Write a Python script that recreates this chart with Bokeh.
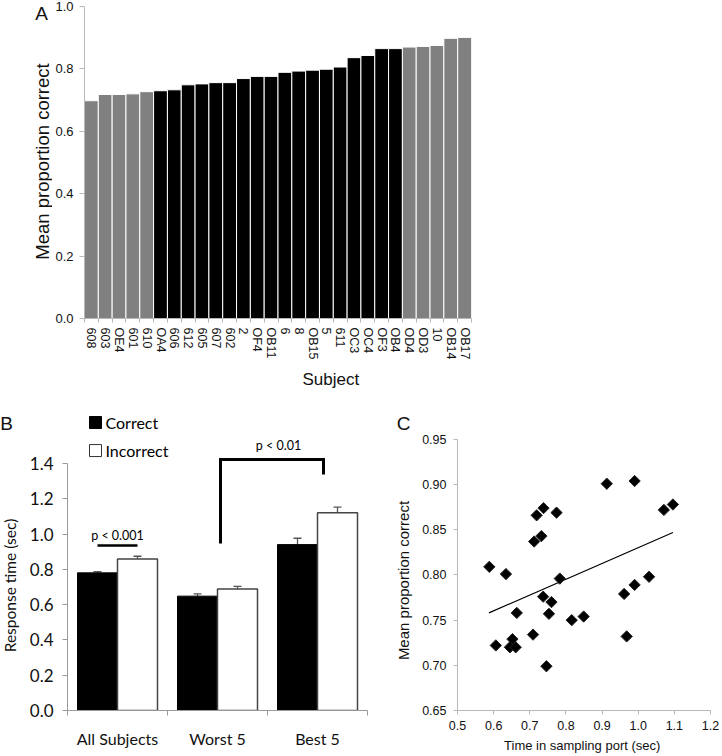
import numpy as np
from bokeh.plotting import figure
from bokeh.models import (Range1d, FixedTicker, ColumnDataSource, Whisker,
                          TeeHead, NumeralTickFormatter, Title)
from bokeh.layouts import column, row
from bokeh.embed import file_html
from bokeh.resources import INLINE
from bokeh.core.properties import value

# ---------------- Panel A data ----------------
subjects = ["608", "603", "OE4", "601", "610", "OA4", "606", "612", "605", "607",
            "602", "2", "OF4", "OB11", "6", "8", "OB15", "5", "611", "OC3",
            "OC4", "OF3", "OB4", "OD4", "OD3", "10", "OB14", "OB17"]
prop_correct = [0.698, 0.718, 0.718, 0.720, 0.727, 0.730, 0.733, 0.749, 0.752, 0.756,
                0.756, 0.769, 0.776, 0.776, 0.789, 0.793, 0.796, 0.799, 0.806, 0.836,
                0.843, 0.865, 0.865, 0.870, 0.872, 0.875, 0.898, 0.901]
bar_group = ["extreme"] * 5 + ["middle"] * 18 + ["extreme"] * 5
a_yticks = [0.0, 0.2, 0.4, 0.6, 0.8, 1.0]

# ---------------- Panel B data ----------------
groups = ["All Subjects", "Worst 5", "Best 5"]
rt_correct = [0.780, 0.648, 0.940]
rt_correct_err = [0.007, 0.013, 0.036]
rt_incorrect = [0.859, 0.689, 1.120]
rt_incorrect_err = [0.015, 0.014, 0.032]
b_yticks = [0.0, 0.2, 0.4, 0.6, 0.8, 1.0, 1.2, 1.4]
sig_labels = ["p < 0.001", "p < 0.01"]
legend_labels = ["Correct", "Incorrect"]

# ---------------- Panel C data ----------------
c_time = [0.913, 0.990, 0.738, 0.719, 0.774, 0.712, 0.732, 1.071, 1.096, 0.588,
          0.634, 0.783, 1.030, 0.990, 0.961, 0.737, 0.760, 0.664, 0.753, 0.816,
          0.849, 0.709, 0.968, 0.652, 0.606, 0.645, 0.661, 0.746]
c_prop = [0.901, 0.904, 0.874, 0.866, 0.869, 0.837, 0.843, 0.872, 0.878, 0.809,
          0.801, 0.796, 0.798, 0.789, 0.779, 0.776, 0.770, 0.758, 0.757, 0.750,
          0.754, 0.734, 0.732, 0.729, 0.722, 0.720, 0.720, 0.699]
fit_x = [0.587, 1.096]
fit_y = [0.758, 0.847]
c_xticks = [0.5, 0.6, 0.7, 0.8, 0.9, 1.0, 1.1, 1.2]
c_yticks = [0.65, 0.70, 0.75, 0.80, 0.85, 0.90, 0.95]

GROUP_COLORS = {"extreme": "#808080", "middle": "#000000"}
TXT = "#111111"


def strip(width, height, bt, bb):
    """A bare figure whose data coordinates equal its canvas pixels (y downward);
    it only carries side texts. Borders match its row partner so frames line up."""
    s = figure(width=width, height=height, x_range=Range1d(0, width),
               y_range=Range1d(height - bb, bt),
               output_backend="svg", toolbar_location=None,
               x_axis_location=None, y_axis_location=None,
               min_border_left=0, min_border_right=0, min_border_top=bt, min_border_bottom=bb)
    s.grid.visible = False
    s.outline_line_color = None
    return s


# =============== Panel A ===============
A_H, A_BT, A_BB = 398, 6, 80
n = len(subjects)
centers = np.arange(n) + 0.5
edges = list(np.arange(n + 1).astype(float))
srcA = ColumnDataSource(dict(x=centers, top=prop_correct,
                             color=[GROUP_COLORS[g] for g in bar_group]))
pA = figure(width=670, height=A_H, x_range=Range1d(0, n), y_range=Range1d(0, 1.0),
            output_backend="svg", toolbar_location=None,
            min_border_left=32, min_border_right=251, min_border_top=A_BT, min_border_bottom=A_BB)
pA.vbar(x="x", top="top", bottom=0, width=1.0, fill_color="color",
        line_color="white", line_width=1, source=srcA)
pA.grid.visible = False
pA.outline_line_color = None

ya = pA.yaxis[0]
ya.ticker = FixedTicker(ticks=a_yticks)
ya.formatter = NumeralTickFormatter(format="0.0")
ya.axis_line_color = "#b8b8b8"
ya.major_tick_line_color = "#b8b8b8"
ya.major_tick_out = 5
ya.major_tick_in = 0
ya.minor_tick_line_color = None
ya.major_label_text_font = "Liberation Sans"
ya.major_label_text_font_size = "13px"
ya.major_label_text_color = TXT
ya.major_label_standoff = 6

xa = pA.xaxis[0]
xa.ticker = FixedTicker(ticks=list(centers), minor_ticks=edges)
xa.major_label_overrides = {float(c): s for c, s in zip(centers, subjects)}
xa.major_label_orientation = "vertical"
xa.major_tick_line_color = None
xa.major_tick_out = 0
xa.major_tick_in = 0
xa.minor_tick_line_color = "#b8b8b8"
xa.minor_tick_out = 4
xa.minor_tick_in = 0
xa.axis_line_color = "#b8b8b8"
xa.major_label_text_font = "Liberation Sans"
xa.major_label_text_font_size = "12.5px"
xa.major_label_text_color = TXT
xa.major_label_standoff = 5

pA.add_layout(Title(text="Subject", align="left", offset=218, standoff=10,
                    text_font="Liberation Sans", text_font_size="17px",
                    text_font_style="normal", text_color=TXT), "below")

sA = strip(52, A_H, A_BT, A_BB)
sA.text(x=[41], y=[13], text=["A"], text_align="center", text_baseline="middle",
        text_font=value("Liberation Sans"), text_font_size="19px", text_color=TXT)
sA.text(x=[42], y=[161], text=["Mean proportion correct"], angle=np.pi / 2,
        text_align="center", text_baseline="middle",
        text_font=value("Liberation Sans"), text_font_size="18.5px", text_color=TXT)

# =============== Row B / C shared frame borders ===============
R_H, R_BT, R_BB = 358, 3, 46

# =============== Panel B ===============
gi = np.arange(len(groups))
srcBc = ColumnDataSource(dict(x=gi + 0.3, top=rt_correct,
                              upper=np.array(rt_correct) + np.array(rt_correct_err)))
srcBi = ColumnDataSource(dict(x=gi + 0.7, top=rt_incorrect,
                              upper=np.array(rt_incorrect) + np.array(rt_incorrect_err)))

pB = figure(width=346, height=R_H, x_range=Range1d(0, len(groups)), y_range=Range1d(0, 1.751),
            output_backend="svg", toolbar_location=None,
            min_border_left=43, min_border_right=3, min_border_top=R_BT, min_border_bottom=R_BB)
pB.grid.visible = False
pB.outline_line_color = None

pB.vbar(x="x", top="top", bottom=0, width=0.4, fill_color="black", line_color="black",
        line_width=1, source=srcBc)
pB.vbar(x="x", top="top", bottom=0, width=0.4, fill_color="white", line_color="#444444",
        line_width=1.5, source=srcBi)
for src in (srcBc, srcBi):
    pB.add_layout(Whisker(source=src, base="x", upper="upper", lower="top",
                          line_color="#555555", line_width=1.3,
                          upper_head=TeeHead(size=8, line_color="#555555", line_width=1.3),
                          lower_head=None))

# significance marks
pB.line(x=[0.3, 0.7], y=[0.935, 0.935], line_color="black", line_width=2.5)
pB.line(x=[1.53, 1.53, 2.56, 2.56], y=[0.946, 1.422, 1.422, 1.337], line_color="black",
        line_width=3, line_join="miter")
pB.text(x=[0.5, 2.11], y=[0.99, 1.50], text=sig_labels, text_align="center",
        text_baseline="middle", text_font=value("Lato"), text_font_size="12.5px",
        text_color="black")

# legend (drawn manually)
pB.scatter(x=[0.28], y=[1.632], marker="square", size=12, fill_color="black", line_color="black")
pB.scatter(x=[0.28], y=[1.473], marker="square", size=12, fill_color="white", line_color="#333333",
           line_width=1)
pB.text(x=[0.38, 0.38], y=[1.632, 1.473], text=legend_labels, text_align="left",
        text_baseline="middle", text_font=value("Lato"), text_font_size="16px", text_color="black")

yb = pB.yaxis[0]
yb.ticker = FixedTicker(ticks=b_yticks)
yb.formatter = NumeralTickFormatter(format="0.0")
yb.bounds = (0, 1.4)
yb.axis_line_color = "#9a9a9a"
yb.major_tick_line_color = "#9a9a9a"
yb.major_tick_out = 5
yb.major_tick_in = 0
yb.minor_tick_line_color = None
yb.major_label_text_font = "Lato"
yb.major_label_text_font_size = "17px"
yb.major_label_text_color = TXT
yb.major_label_standoff = 9

xb = pB.xaxis[0]
xb.ticker = FixedTicker(ticks=list(gi + 0.5), minor_ticks=list(np.arange(len(groups) + 1).astype(float)))
xb.major_label_overrides = {float(c): g for c, g in zip(gi + 0.5, groups)}
xb.major_tick_line_color = None
xb.major_tick_out = 0
xb.major_tick_in = 0
xb.minor_tick_line_color = "#9a9a9a"
xb.minor_tick_out = 5
xb.minor_tick_in = 0
xb.axis_line_color = "#9a9a9a"
xb.major_label_text_font = "Lato"
xb.major_label_text_font_size = "16px"
xb.major_label_text_color = TXT
xb.major_label_standoff = 13

sB = strip(24, R_H, R_BT, R_BB)
sB.text(x=[6], y=[25], text=["B"], text_align="center", text_baseline="middle",
        text_font=value("Liberation Sans"), text_font_size="19px", text_color=TXT)
sB.text(x=[9], y=[187], text=["Response time (sec)"], angle=np.pi / 2,
        text_align="center", text_baseline="middle",
        text_font=value("Lato"), text_font_size="15.5px", text_color=TXT)

# =============== Panel C ===============
pC = figure(width=306, height=R_H, x_range=Range1d(0.5, 1.2), y_range=Range1d(0.65, 0.992),
            output_backend="svg", toolbar_location=None,
            min_border_left=41, min_border_right=12, min_border_top=R_BT, min_border_bottom=R_BB)
pC.grid.visible = False
pC.outline_line_color = None
pC.line(x=fit_x, y=fit_y, line_color="black", line_width=1.2)
pC.scatter(x=c_time, y=c_prop, marker="square", angle=np.pi / 4, size=8,
           fill_color="black", line_color="#222222", line_width=1)

for ax in (pC.xaxis[0], pC.yaxis[0]):
    ax.axis_line_color = "#b8b8b8"
    ax.major_tick_line_color = "#b8b8b8"
    ax.major_tick_out = 4
    ax.major_tick_in = 0
    ax.minor_tick_line_color = None
    ax.major_label_text_font = "Liberation Sans"
    ax.major_label_text_font_size = "12.5px"
    ax.major_label_text_color = TXT
    ax.axis_label_text_font = "Liberation Sans"
    ax.axis_label_text_font_style = "normal"
    ax.axis_label_text_color = TXT

xc = pC.xaxis[0]
xc.ticker = FixedTicker(ticks=c_xticks)
xc.formatter = NumeralTickFormatter(format="0.0")
xc.major_label_standoff = 6
xc.axis_label = "Time  in sampling port (sec)"
xc.axis_label_text_font_size = "13px"
xc.axis_label_standoff = 5

yc = pC.yaxis[0]
yc.ticker = FixedTicker(ticks=c_yticks)
yc.formatter = NumeralTickFormatter(format="0.00")
yc.bounds = (0.65, 0.95)
yc.major_label_standoff = 7

sC = strip(46, R_H, R_BT, R_BB)
sC.text(x=[33], y=[25], text=["C"], text_align="center", text_baseline="middle",
        text_font=value("Liberation Sans"), text_font_size="19px", text_color=TXT)
sC.text(x=[33], y=[182], text=["Mean proportion correct"], angle=np.pi / 2,
        text_align="center", text_baseline="middle",
        text_font=value("Liberation Sans"), text_font_size="15px", text_color=TXT)

layout = column(row(sA, pA, spacing=0), row(sB, pB, sC, pC, spacing=0), spacing=0)
open("out.html", "w").write(file_html(layout, INLINE))
